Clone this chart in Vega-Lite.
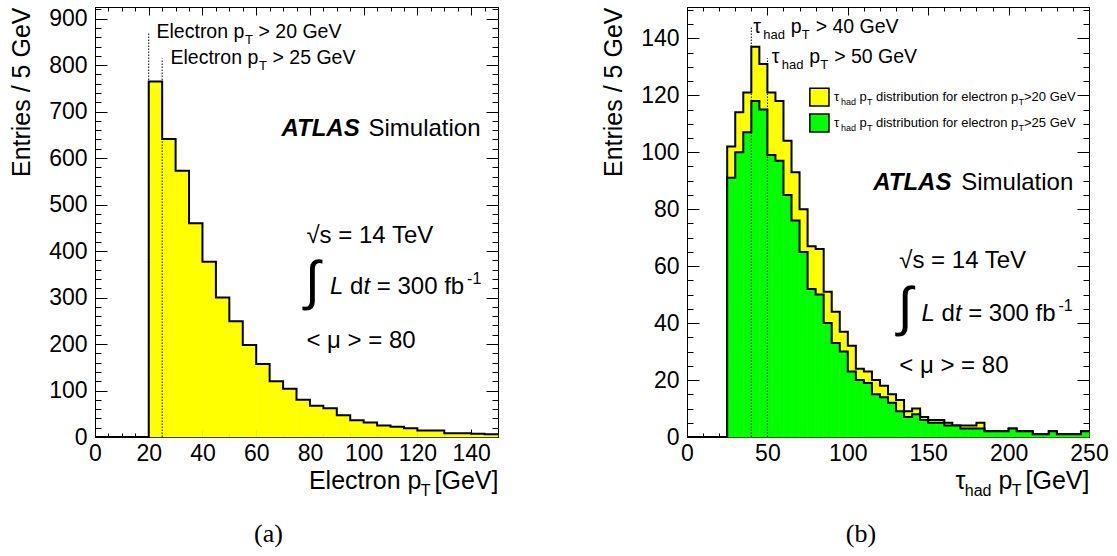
{
  "$schema": "https://vega.github.io/schema/vega-lite/v6.json",
  "background": "white",
  "padding": {"left": 9, "top": 6, "right": 5, "bottom": 0},
  "spacing": 98,
  "config": {
    "font": "Liberation Sans",
    "view": {"stroke": "black", "strokeWidth": 1},
    "axis": {
      "labelFont": "Liberation Sans", "titleFont": "Liberation Sans",
      "labelColor": "black", "titleColor": "black", "tickColor": "black",
      "labelFontSize": 23, "titleFontSize": 25, "titleFontWeight": "normal",
      "domain": false, "grid": false, "labelFlush": false, "tickWidth": 1
    },
    "text": {"font": "Liberation Sans", "color": "black"}
  },
  "datasets": {
    "electron": [
      {"lo": 0, "hi": 5, "n": 0}, {"lo": 5, "hi": 10, "n": 0}, {"lo": 10, "hi": 15, "n": 0}, {"lo": 15, "hi": 20, "n": 0},
      {"lo": 20, "hi": 25, "n": 765}, {"lo": 25, "hi": 30, "n": 641}, {"lo": 30, "hi": 35, "n": 573}, {"lo": 35, "hi": 40, "n": 460},
      {"lo": 40, "hi": 45, "n": 377}, {"lo": 45, "hi": 50, "n": 300}, {"lo": 50, "hi": 55, "n": 249}, {"lo": 55, "hi": 60, "n": 198},
      {"lo": 60, "hi": 65, "n": 157}, {"lo": 65, "hi": 70, "n": 120}, {"lo": 70, "hi": 75, "n": 104}, {"lo": 75, "hi": 80, "n": 80},
      {"lo": 80, "hi": 85, "n": 67}, {"lo": 85, "hi": 90, "n": 62}, {"lo": 90, "hi": 95, "n": 47}, {"lo": 95, "hi": 100, "n": 36},
      {"lo": 100, "hi": 105, "n": 31}, {"lo": 105, "hi": 110, "n": 25}, {"lo": 110, "hi": 115, "n": 22}, {"lo": 115, "hi": 120, "n": 19},
      {"lo": 120, "hi": 125, "n": 14}, {"lo": 125, "hi": 130, "n": 14}, {"lo": 130, "hi": 135, "n": 8}, {"lo": 135, "hi": 140, "n": 8},
      {"lo": 140, "hi": 145, "n": 7}, {"lo": 145, "hi": 150, "n": 6}
    ],
    "tau": [
      {"lo": 0, "hi": 5, "e20": 0, "e25": 0}, {"lo": 5, "hi": 10, "e20": 0, "e25": 0}, {"lo": 10, "hi": 15, "e20": 0, "e25": 0},
      {"lo": 15, "hi": 20, "e20": 0, "e25": 0}, {"lo": 20, "hi": 25, "e20": 0, "e25": 0},
      {"lo": 25, "hi": 30, "e20": 102, "e25": 91}, {"lo": 30, "hi": 35, "e20": 114, "e25": 100}, {"lo": 35, "hi": 40, "e20": 121, "e25": 107},
      {"lo": 40, "hi": 45, "e20": 137, "e25": 118}, {"lo": 45, "hi": 50, "e20": 131, "e25": 115}, {"lo": 50, "hi": 55, "e20": 121, "e25": 99},
      {"lo": 55, "hi": 60, "e20": 118, "e25": 97}, {"lo": 60, "hi": 65, "e20": 104, "e25": 85}, {"lo": 65, "hi": 70, "e20": 93, "e25": 76},
      {"lo": 70, "hi": 75, "e20": 80, "e25": 65}, {"lo": 75, "hi": 80, "e20": 67, "e25": 52}, {"lo": 80, "hi": 85, "e20": 66, "e25": 50},
      {"lo": 85, "hi": 90, "e20": 51, "e25": 40}, {"lo": 90, "hi": 95, "e20": 44, "e25": 33}, {"lo": 95, "hi": 100, "e20": 37, "e25": 30},
      {"lo": 100, "hi": 105, "e20": 32, "e25": 23}, {"lo": 105, "hi": 110, "e20": 24, "e25": 20}, {"lo": 110, "hi": 115, "e20": 23, "e25": 19},
      {"lo": 115, "hi": 120, "e20": 20, "e25": 15}, {"lo": 120, "hi": 125, "e20": 18, "e25": 14}, {"lo": 125, "hi": 130, "e20": 15, "e25": 12},
      {"lo": 130, "hi": 135, "e20": 13, "e25": 9}, {"lo": 135, "hi": 140, "e20": 9, "e25": 7}, {"lo": 140, "hi": 145, "e20": 10, "e25": 8},
      {"lo": 145, "hi": 150, "e20": 7, "e25": 6}, {"lo": 150, "hi": 155, "e20": 6, "e25": 5}, {"lo": 155, "hi": 160, "e20": 6, "e25": 5},
      {"lo": 160, "hi": 165, "e20": 5, "e25": 4}, {"lo": 165, "hi": 170, "e20": 4, "e25": 4}, {"lo": 170, "hi": 175, "e20": 4, "e25": 3},
      {"lo": 175, "hi": 180, "e20": 4, "e25": 3}, {"lo": 180, "hi": 185, "e20": 5, "e25": 3}, {"lo": 185, "hi": 190, "e20": 2, "e25": 2},
      {"lo": 190, "hi": 195, "e20": 2, "e25": 2}, {"lo": 195, "hi": 200, "e20": 2, "e25": 2}, {"lo": 200, "hi": 205, "e20": 3, "e25": 3},
      {"lo": 205, "hi": 210, "e20": 2, "e25": 2}, {"lo": 210, "hi": 215, "e20": 2, "e25": 2}, {"lo": 215, "hi": 220, "e20": 1, "e25": 1},
      {"lo": 220, "hi": 225, "e20": 1, "e25": 1}, {"lo": 225, "hi": 230, "e20": 2, "e25": 2}, {"lo": 230, "hi": 235, "e20": 1, "e25": 1},
      {"lo": 235, "hi": 240, "e20": 1, "e25": 1}, {"lo": 240, "hi": 245, "e20": 1, "e25": 1}, {"lo": 245, "hi": 250, "e20": 2, "e25": 2}
    ]
  },
  "hconcat": [
    {
      "width": 403, "height": 430,
      "data": {"name": "electron"},
      "title": {"text": "(a)", "orient": "bottom", "frame": "group", "anchor": "middle", "dx": -28, "offset": 23, "baseline": "top",
                "font": "Liberation Serif", "fontSize": 26, "fontWeight": "normal", "color": "black"},
      "resolve": {"axis": {"x": "independent", "y": "independent"}},
      "layer": [
        {
          "mark": {"type": "rect", "color": "#ffff00", "stroke": "#ffff00", "strokeWidth": 0.5},
          "encoding": {
            "x": {"field": "lo", "type": "quantitative", "scale": {"domain": [0, 150], "nice": false, "zero": false},
                  "axis": {"orient": "bottom", "values": [0, 20, 40, 60, 80, 100, 120, 140], "tickSize": -8, "labelPadding": 13,
                           "title": "Electron p", "titleX": 326, "titleY": 51, "titleAlign": "right", "titleBaseline": "alphabetic", "titleAngle": 0}},
            "x2": {"field": "hi"},
            "y": {"field": "n", "type": "quantitative", "scale": {"domain": [0, 925], "nice": false},
                  "axis": {"orient": "left", "values": [0, 100, 200, 300, 400, 500, 600, 700, 800, 900], "tickSize": -12, "labelPadding": 20,
                           "title": "Entries / 5 GeV", "titleAnchor": "end", "titlePadding": 14}},
            "y2": {"datum": 0}
          }
        },
        {
          "data": {"values": [{"cut": 20}]},
          "mark": {"type": "rule", "color": "black", "strokeWidth": 1, "strokeDash": [1.5, 1.5]},
          "encoding": {
            "x": {"field": "cut", "type": "quantitative",
                  "axis": {"orient": "bottom", "values": [0, 5, 10, 15, 20, 25, 30, 35, 40, 45, 50, 55, 60, 65, 70, 75, 80, 85, 90, 95, 100, 105, 110, 115, 120, 125, 130, 135, 140, 145, 150],
                           "tickSize": -4, "labels": false, "title": null}},
            "y": {"datum": 0, "type": "quantitative",
                  "axis": {"orient": "left", "values": [0, 20, 40, 60, 80, 100, 120, 140, 160, 180, 200, 220, 240, 260, 280, 300, 320, 340, 360, 380, 400, 420, 440, 460, 480, 500, 520, 540, 560, 580, 600, 620, 640, 660, 680, 700, 720, 740, 760, 780, 800, 820, 840, 860, 880, 900, 920],
                           "tickSize": -6, "labels": false, "title": null}},
            "y2": {"datum": 871}
          }
        },
        {
          "data": {"values": [{"cut": 25}]},
          "mark": {"type": "rule", "color": "black", "strokeWidth": 1, "strokeDash": [1.5, 1.5]},
          "encoding": {
            "x": {"field": "cut", "type": "quantitative",
                  "axis": {"orient": "top", "values": [0, 20, 40, 60, 80, 100, 120, 140], "tickSize": -8, "labels": false, "title": null}},
            "y": {"datum": 0, "type": "quantitative",
                  "axis": {"orient": "right", "values": [0, 100, 200, 300, 400, 500, 600, 700, 800, 900], "tickSize": -12, "labels": false, "title": null}},
            "y2": {"datum": 814}
          }
        },
        {
          "transform": [{"fold": ["lo", "hi"], "as": ["side", "edge"]}],
          "mark": {"type": "line", "color": "black", "strokeWidth": 2, "interpolate": "linear"},
          "encoding": {
            "x": {"field": "edge", "type": "quantitative",
                  "axis": {"orient": "top", "values": [0, 5, 10, 15, 20, 25, 30, 35, 40, 45, 50, 55, 60, 65, 70, 75, 80, 85, 90, 95, 100, 105, 110, 115, 120, 125, 130, 135, 140, 145, 150],
                           "tickSize": -4, "labels": false, "title": null}},
            "y": {"field": "n", "type": "quantitative",
                  "axis": {"orient": "right", "values": [0, 20, 40, 60, 80, 100, 120, 140, 160, 180, 200, 220, 240, 260, 280, 300, 320, 340, 360, 380, 400, 420, 440, 460, 480, 500, 520, 540, 560, 580, 600, 620, 640, 660, 680, 700, 720, 740, 760, 780, 800, 820, 840, 860, 880, 900, 920],
                           "tickSize": -6, "labels": false, "title": null}},
            "order": [{"field": "edge", "type": "quantitative"}, {"field": "side", "type": "nominal"}]
          }
        },
        {
          "data": {"values": [{}]},
          "mark": {"type": "text", "text": "Electron p", "fontSize": 19.5, "align": "left", "baseline": "alphabetic"},
          "encoding": {
            "x": {"datum": 22.9, "type": "quantitative",
                  "axis": {"orient": "bottom", "labels": false, "ticks": false, "title": "T", "titleX": 335, "titleY": 58, "titleAlign": "right",
                           "titleBaseline": "alphabetic", "titleAngle": 0, "titleFontSize": 16}},
            "y": {"datum": 859, "type": "quantitative", "axis": null}
          }
        },
        {
          "data": {"values": [{}]},
          "mark": {"type": "text", "text": "T", "fontSize": 13, "align": "left", "baseline": "alphabetic", "dx": 88.5, "dy": 6},
          "encoding": {
            "x": {"datum": 22.9, "type": "quantitative",
                  "axis": {"orient": "bottom", "labels": false, "ticks": false, "title": "[GeV]", "titleX": 403, "titleY": 51, "titleAlign": "right",
                           "titleBaseline": "alphabetic", "titleAngle": 0}},
            "y": {"datum": 859, "type": "quantitative", "axis": null}
          }
        },
        {
          "data": {"values": [{}]},
          "mark": {"type": "text", "text": "> 20 GeV", "fontSize": 19.5, "align": "left", "baseline": "alphabetic", "dx": 102},
          "encoding": {"x": {"datum": 22.9, "type": "quantitative", "axis": null}, "y": {"datum": 859, "type": "quantitative", "axis": null}}
        },
        {
          "data": {"values": [{}]},
          "mark": {"type": "text", "text": "Electron p", "fontSize": 19.5, "align": "left", "baseline": "alphabetic"},
          "encoding": {"x": {"datum": 28.1, "type": "quantitative", "axis": null}, "y": {"datum": 802, "type": "quantitative", "axis": null}}
        },
        {
          "data": {"values": [{}]},
          "mark": {"type": "text", "text": "T", "fontSize": 13, "align": "left", "baseline": "alphabetic", "dx": 88.5, "dy": 6},
          "encoding": {"x": {"datum": 28.1, "type": "quantitative", "axis": null}, "y": {"datum": 802, "type": "quantitative", "axis": null}}
        },
        {
          "data": {"values": [{}]},
          "mark": {"type": "text", "text": "> 25 GeV", "fontSize": 19.5, "align": "left", "baseline": "alphabetic", "dx": 102},
          "encoding": {"x": {"datum": 28.1, "type": "quantitative", "axis": null}, "y": {"datum": 802, "type": "quantitative", "axis": null}}
        },
        {
          "data": {"values": [{}]},
          "mark": {"type": "text", "text": "ATLAS", "fontSize": 24, "fontStyle": "italic", "fontWeight": "bold", "align": "left", "baseline": "alphabetic"},
          "encoding": {"x": {"datum": 69.4, "type": "quantitative", "axis": null}, "y": {"datum": 647, "type": "quantitative", "axis": null}}
        },
        {
          "data": {"values": [{}]},
          "mark": {"type": "text", "text": "Simulation", "fontSize": 24, "align": "left", "baseline": "alphabetic", "dx": 87},
          "encoding": {"x": {"datum": 69.4, "type": "quantitative", "axis": null}, "y": {"datum": 647, "type": "quantitative", "axis": null}}
        },
        {
          "data": {"values": [{}]},
          "mark": {"type": "text", "text": "√s = 14 TeV", "fontSize": 24, "align": "left", "baseline": "alphabetic"},
          "encoding": {"x": {"datum": 78.7, "type": "quantitative", "axis": null}, "y": {"datum": 418, "type": "quantitative", "axis": null}}
        },
        {
          "data": {"values": [{}]},
          "mark": {"type": "text", "text": "∫", "fontSize": 54, "align": "left", "baseline": "middle"},
          "encoding": {"x": {"datum": 78.2, "type": "quantitative", "axis": null}, "y": {"datum": 331.6, "type": "quantitative", "axis": null}}
        },
        {
          "data": {"values": [{}]},
          "mark": {"type": "text", "text": "L", "fontSize": 24, "fontStyle": "italic", "align": "left", "baseline": "alphabetic"},
          "encoding": {"x": {"datum": 87.5, "type": "quantitative", "axis": null}, "y": {"datum": 307, "type": "quantitative", "axis": null}}
        },
        {
          "data": {"values": [{}]},
          "mark": {"type": "text", "text": "d", "fontSize": 24, "align": "left", "baseline": "alphabetic", "dx": 20},
          "encoding": {"x": {"datum": 87.5, "type": "quantitative", "axis": null}, "y": {"datum": 307, "type": "quantitative", "axis": null}}
        },
        {
          "data": {"values": [{}]},
          "mark": {"type": "text", "text": "t", "fontSize": 24, "fontStyle": "italic", "align": "left", "baseline": "alphabetic", "dx": 33.5},
          "encoding": {"x": {"datum": 87.5, "type": "quantitative", "axis": null}, "y": {"datum": 307, "type": "quantitative", "axis": null}}
        },
        {
          "data": {"values": [{}]},
          "mark": {"type": "text", "text": "= 300 fb", "fontSize": 24, "align": "left", "baseline": "alphabetic", "dx": 46.7},
          "encoding": {"x": {"datum": 87.5, "type": "quantitative", "axis": null}, "y": {"datum": 307, "type": "quantitative", "axis": null}}
        },
        {
          "data": {"values": [{}]},
          "mark": {"type": "text", "text": "-1", "fontSize": 16, "align": "left", "baseline": "alphabetic", "dx": 137, "dy": -10},
          "encoding": {"x": {"datum": 87.5, "type": "quantitative", "axis": null}, "y": {"datum": 307, "type": "quantitative", "axis": null}}
        },
        {
          "data": {"values": [{}]},
          "mark": {"type": "text", "text": "< μ > = 80", "fontSize": 24, "align": "left", "baseline": "alphabetic"},
          "encoding": {"x": {"datum": 78.7, "type": "quantitative", "axis": null}, "y": {"datum": 192, "type": "quantitative", "axis": null}}
        }
      ]
    },
    {
      "width": 402, "height": 430,
      "data": {"name": "tau"},
      "title": {"text": "(b)", "orient": "bottom", "frame": "group", "anchor": "middle", "dx": -27, "offset": 23, "baseline": "top",
                "font": "Liberation Serif", "fontSize": 26, "fontWeight": "normal", "color": "black"},
      "resolve": {"axis": {"x": "independent", "y": "independent"}},
      "layer": [
        {
          "mark": {"type": "rect", "color": "#ffff00", "stroke": "#ffff00", "strokeWidth": 0.5},
          "encoding": {
            "x": {"field": "lo", "type": "quantitative", "scale": {"domain": [0, 250], "nice": false, "zero": false},
                  "axis": {"orient": "bottom", "values": [0, 50, 100, 150, 200, 250], "tickSize": -8, "labelPadding": 13,
                           "title": "τ", "titleX": 278, "titleY": 51, "titleAlign": "right", "titleBaseline": "alphabetic", "titleAngle": 0}},
            "x2": {"field": "hi"},
            "y": {"field": "e20", "type": "quantitative", "scale": {"domain": [0, 151], "nice": false},
                  "axis": {"orient": "left", "values": [0, 20, 40, 60, 80, 100, 120, 140], "tickSize": -12, "labelPadding": 20,
                           "title": "Entries / 5 GeV", "titleAnchor": "end", "titlePadding": 14}},
            "y2": {"datum": 0}
          }
        },
        {
          "transform": [{"fold": ["lo", "hi"], "as": ["side", "edge"]}],
          "mark": {"type": "line", "color": "black", "strokeWidth": 2, "interpolate": "linear"},
          "encoding": {
            "x": {"field": "edge", "type": "quantitative",
                  "axis": {"orient": "bottom", "values": [0, 10, 20, 30, 40, 50, 60, 70, 80, 90, 100, 110, 120, 130, 140, 150, 160, 170, 180, 190, 200, 210, 220, 230, 240, 250],
                           "tickSize": -4, "labels": false, "title": null}},
            "y": {"field": "e20", "type": "quantitative",
                  "axis": {"orient": "left", "values": [0, 5, 10, 15, 20, 25, 30, 35, 40, 45, 50, 55, 60, 65, 70, 75, 80, 85, 90, 95, 100, 105, 110, 115, 120, 125, 130, 135, 140, 145, 150],
                           "tickSize": -6, "labels": false, "title": null}},
            "order": [{"field": "edge", "type": "quantitative"}, {"field": "side", "type": "nominal"}]
          }
        },
        {
          "mark": {"type": "rect", "color": "#00ff00", "stroke": "#00ff00", "strokeWidth": 0.5},
          "encoding": {
            "x": {"field": "lo", "type": "quantitative",
                  "axis": {"orient": "top", "values": [0, 50, 100, 150, 200, 250], "tickSize": -8, "labels": false, "title": null}},
            "x2": {"field": "hi"},
            "y": {"field": "e25", "type": "quantitative",
                  "axis": {"orient": "right", "values": [0, 20, 40, 60, 80, 100, 120, 140], "tickSize": -12, "labels": false, "title": null}},
            "y2": {"datum": 0}
          }
        },
        {
          "transform": [{"fold": ["lo", "hi"], "as": ["side", "edge"]}],
          "mark": {"type": "line", "color": "black", "strokeWidth": 2, "interpolate": "linear"},
          "encoding": {
            "x": {"field": "edge", "type": "quantitative",
                  "axis": {"orient": "top", "values": [0, 10, 20, 30, 40, 50, 60, 70, 80, 90, 100, 110, 120, 130, 140, 150, 160, 170, 180, 190, 200, 210, 220, 230, 240, 250],
                           "tickSize": -4, "labels": false, "title": null}},
            "y": {"field": "e25", "type": "quantitative",
                  "axis": {"orient": "right", "values": [0, 5, 10, 15, 20, 25, 30, 35, 40, 45, 50, 55, 60, 65, 70, 75, 80, 85, 90, 95, 100, 105, 110, 115, 120, 125, 130, 135, 140, 145, 150],
                           "tickSize": -6, "labels": false, "title": null}},
            "order": [{"field": "edge", "type": "quantitative"}, {"field": "side", "type": "nominal"}]
          }
        },
        {
          "data": {"values": [{"cut": 40}]},
          "mark": {"type": "rule", "color": "black", "strokeWidth": 1, "strokeDash": [1.5, 1.5]},
          "encoding": {
            "x": {"field": "cut", "type": "quantitative",
                  "axis": {"orient": "bottom", "labels": false, "ticks": false, "title": "had", "titleX": 304, "titleY": 58, "titleAlign": "right",
                           "titleBaseline": "alphabetic", "titleAngle": 0, "titleFontSize": 16}},
            "y": {"datum": 0, "type": "quantitative", "axis": null},
            "y2": {"datum": 144}
          }
        },
        {
          "data": {"values": [{"cut": 50}]},
          "mark": {"type": "rule", "color": "black", "strokeWidth": 1, "strokeDash": [1.5, 1.5]},
          "encoding": {
            "x": {"field": "cut", "type": "quantitative",
                  "axis": {"orient": "bottom", "labels": false, "ticks": false, "title": "p", "titleX": 325, "titleY": 51, "titleAlign": "right",
                           "titleBaseline": "alphabetic", "titleAngle": 0}},
            "y": {"datum": 0, "type": "quantitative", "axis": null},
            "y2": {"datum": 133}
          }
        },
        {
          "data": {"values": [{}]},
          "mark": {"type": "text", "text": "τ", "fontSize": 19.5, "align": "left", "baseline": "alphabetic"},
          "encoding": {
            "x": {"datum": 41.2, "type": "quantitative",
                  "axis": {"orient": "bottom", "labels": false, "ticks": false, "title": "T", "titleX": 334, "titleY": 58, "titleAlign": "right",
                           "titleBaseline": "alphabetic", "titleAngle": 0, "titleFontSize": 16}},
            "y": {"datum": 142, "type": "quantitative", "axis": null}
          }
        },
        {
          "data": {"values": [{}]},
          "mark": {"type": "text", "text": "had", "fontSize": 13, "align": "left", "baseline": "alphabetic", "dx": 10, "dy": 6},
          "encoding": {
            "x": {"datum": 41.2, "type": "quantitative",
                  "axis": {"orient": "bottom", "labels": false, "ticks": false, "title": "[GeV]", "titleX": 402, "titleY": 51, "titleAlign": "right",
                           "titleBaseline": "alphabetic", "titleAngle": 0}},
            "y": {"datum": 142, "type": "quantitative", "axis": null}
          }
        },
        {
          "data": {"values": [{}]},
          "mark": {"type": "text", "text": "p", "fontSize": 19.5, "align": "left", "baseline": "alphabetic", "dx": 37.4},
          "encoding": {"x": {"datum": 41.2, "type": "quantitative", "axis": null}, "y": {"datum": 142, "type": "quantitative", "axis": null}}
        },
        {
          "data": {"values": [{}]},
          "mark": {"type": "text", "text": "T", "fontSize": 13, "align": "left", "baseline": "alphabetic", "dx": 48.5, "dy": 6},
          "encoding": {"x": {"datum": 41.2, "type": "quantitative", "axis": null}, "y": {"datum": 142, "type": "quantitative", "axis": null}}
        },
        {
          "data": {"values": [{}]},
          "mark": {"type": "text", "text": "> 40 GeV", "fontSize": 19.5, "align": "left", "baseline": "alphabetic", "dx": 62.4},
          "encoding": {"x": {"datum": 41.2, "type": "quantitative", "axis": null}, "y": {"datum": 142, "type": "quantitative", "axis": null}}
        },
        {
          "data": {"values": [{}]},
          "mark": {"type": "text", "text": "τ", "fontSize": 19.5, "align": "left", "baseline": "alphabetic"},
          "encoding": {"x": {"datum": 52.7, "type": "quantitative", "axis": null}, "y": {"datum": 131.4, "type": "quantitative", "axis": null}}
        },
        {
          "data": {"values": [{}]},
          "mark": {"type": "text", "text": "had", "fontSize": 13, "align": "left", "baseline": "alphabetic", "dx": 10, "dy": 6},
          "encoding": {"x": {"datum": 52.7, "type": "quantitative", "axis": null}, "y": {"datum": 131.4, "type": "quantitative", "axis": null}}
        },
        {
          "data": {"values": [{}]},
          "mark": {"type": "text", "text": "p", "fontSize": 19.5, "align": "left", "baseline": "alphabetic", "dx": 37.4},
          "encoding": {"x": {"datum": 52.7, "type": "quantitative", "axis": null}, "y": {"datum": 131.4, "type": "quantitative", "axis": null}}
        },
        {
          "data": {"values": [{}]},
          "mark": {"type": "text", "text": "T", "fontSize": 13, "align": "left", "baseline": "alphabetic", "dx": 48.5, "dy": 6},
          "encoding": {"x": {"datum": 52.7, "type": "quantitative", "axis": null}, "y": {"datum": 131.4, "type": "quantitative", "axis": null}}
        },
        {
          "data": {"values": [{}]},
          "mark": {"type": "text", "text": "> 50 GeV", "fontSize": 19.5, "align": "left", "baseline": "alphabetic", "dx": 62.4},
          "encoding": {"x": {"datum": 52.7, "type": "quantitative", "axis": null}, "y": {"datum": 131.4, "type": "quantitative", "axis": null}}
        },
        {
          "data": {"values": [{}]},
          "mark": {"type": "rect", "fill": "#ffff00", "stroke": "black", "strokeWidth": 1.5},
          "encoding": {
            "x": {"datum": 76.4, "type": "quantitative", "axis": null}, "x2": {"datum": 88.3},
            "y": {"datum": 116.2, "type": "quantitative", "axis": null}, "y2": {"datum": 122.5}
          }
        },
        {
          "data": {"values": [{}]},
          "mark": {"type": "rect", "fill": "#00ff00", "stroke": "black", "strokeWidth": 1.5},
          "encoding": {
            "x": {"datum": 76.4, "type": "quantitative", "axis": null}, "x2": {"datum": 88.3},
            "y": {"datum": 107.1, "type": "quantitative", "axis": null}, "y2": {"datum": 113.4}
          }
        },
        {
          "data": {"values": [{}]},
          "mark": {"type": "text", "text": ["τ", "τ"], "lineHeight": 26, "fontSize": 13, "align": "left", "baseline": "alphabetic"},
          "encoding": {"x": {"datum": 91.4, "type": "quantitative", "axis": null}, "y": {"datum": 118, "type": "quantitative", "axis": null}}
        },
        {
          "data": {"values": [{}]},
          "mark": {"type": "text", "text": ["had", "had"], "lineHeight": 26, "fontSize": 9, "align": "left", "baseline": "alphabetic", "dx": 7, "dy": 4},
          "encoding": {"x": {"datum": 91.4, "type": "quantitative", "axis": null}, "y": {"datum": 118, "type": "quantitative", "axis": null}}
        },
        {
          "data": {"values": [{}]},
          "mark": {"type": "text", "text": ["p", "p"], "lineHeight": 26, "fontSize": 13, "align": "left", "baseline": "alphabetic", "dx": 25.5},
          "encoding": {"x": {"datum": 91.4, "type": "quantitative", "axis": null}, "y": {"datum": 118, "type": "quantitative", "axis": null}}
        },
        {
          "data": {"values": [{}]},
          "mark": {"type": "text", "text": ["T", "T"], "lineHeight": 26, "fontSize": 9, "align": "left", "baseline": "alphabetic", "dx": 33, "dy": 4},
          "encoding": {"x": {"datum": 91.4, "type": "quantitative", "axis": null}, "y": {"datum": 118, "type": "quantitative", "axis": null}}
        },
        {
          "data": {"values": [{}]},
          "mark": {"type": "text", "text": ["distribution for electron p", "distribution for electron p"], "lineHeight": 26, "fontSize": 13, "align": "left", "baseline": "alphabetic", "dx": 42},
          "encoding": {"x": {"datum": 91.4, "type": "quantitative", "axis": null}, "y": {"datum": 118, "type": "quantitative", "axis": null}}
        },
        {
          "data": {"values": [{}]},
          "mark": {"type": "text", "text": ["T", "T"], "lineHeight": 26, "fontSize": 9, "align": "left", "baseline": "alphabetic", "dx": 184.5, "dy": 4},
          "encoding": {"x": {"datum": 91.4, "type": "quantitative", "axis": null}, "y": {"datum": 118, "type": "quantitative", "axis": null}}
        },
        {
          "data": {"values": [{}]},
          "mark": {"type": "text", "text": [">20 GeV", ">25 GeV"], "lineHeight": 26, "fontSize": 13, "align": "left", "baseline": "alphabetic", "dx": 190},
          "encoding": {"x": {"datum": 91.4, "type": "quantitative", "axis": null}, "y": {"datum": 118, "type": "quantitative", "axis": null}}
        },
        {
          "data": {"values": [{}]},
          "mark": {"type": "text", "text": "ATLAS", "fontSize": 24, "fontStyle": "italic", "fontWeight": "bold", "align": "left", "baseline": "alphabetic"},
          "encoding": {"x": {"datum": 115.8, "type": "quantitative", "axis": null}, "y": {"datum": 86.7, "type": "quantitative", "axis": null}}
        },
        {
          "data": {"values": [{}]},
          "mark": {"type": "text", "text": "Simulation", "fontSize": 24, "align": "left", "baseline": "alphabetic", "dx": 88},
          "encoding": {"x": {"datum": 115.8, "type": "quantitative", "axis": null}, "y": {"datum": 86.7, "type": "quantitative", "axis": null}}
        },
        {
          "data": {"values": [{}]},
          "mark": {"type": "text", "text": "√s = 14 TeV", "fontSize": 24, "align": "left", "baseline": "alphabetic"},
          "encoding": {"x": {"datum": 132, "type": "quantitative", "axis": null}, "y": {"datum": 59.3, "type": "quantitative", "axis": null}}
        },
        {
          "data": {"values": [{}]},
          "mark": {"type": "text", "text": "∫", "fontSize": 54, "align": "left", "baseline": "middle"},
          "encoding": {"x": {"datum": 131.1, "type": "quantitative", "axis": null}, "y": {"datum": 45.1, "type": "quantitative", "axis": null}}
        },
        {
          "data": {"values": [{}]},
          "mark": {"type": "text", "text": "L", "fontSize": 24, "fontStyle": "italic", "align": "left", "baseline": "alphabetic"},
          "encoding": {"x": {"datum": 145.8, "type": "quantitative", "axis": null}, "y": {"datum": 40.7, "type": "quantitative", "axis": null}}
        },
        {
          "data": {"values": [{}]},
          "mark": {"type": "text", "text": "d", "fontSize": 24, "align": "left", "baseline": "alphabetic", "dx": 20},
          "encoding": {"x": {"datum": 145.8, "type": "quantitative", "axis": null}, "y": {"datum": 40.7, "type": "quantitative", "axis": null}}
        },
        {
          "data": {"values": [{}]},
          "mark": {"type": "text", "text": "t", "fontSize": 24, "fontStyle": "italic", "align": "left", "baseline": "alphabetic", "dx": 33.5},
          "encoding": {"x": {"datum": 145.8, "type": "quantitative", "axis": null}, "y": {"datum": 40.7, "type": "quantitative", "axis": null}}
        },
        {
          "data": {"values": [{}]},
          "mark": {"type": "text", "text": "= 300 fb", "fontSize": 24, "align": "left", "baseline": "alphabetic", "dx": 46.7},
          "encoding": {"x": {"datum": 145.8, "type": "quantitative", "axis": null}, "y": {"datum": 40.7, "type": "quantitative", "axis": null}}
        },
        {
          "data": {"values": [{}]},
          "mark": {"type": "text", "text": "-1", "fontSize": 16, "align": "left", "baseline": "alphabetic", "dx": 137, "dy": -10},
          "encoding": {"x": {"datum": 145.8, "type": "quantitative", "axis": null}, "y": {"datum": 40.7, "type": "quantitative", "axis": null}}
        },
        {
          "data": {"values": [{}]},
          "mark": {"type": "text", "text": "< μ > = 80", "fontSize": 24, "align": "left", "baseline": "alphabetic"},
          "encoding": {"x": {"datum": 132, "type": "quantitative", "axis": null}, "y": {"datum": 22.6, "type": "quantitative", "axis": null}}
        }
      ]
    }
  ]
}
